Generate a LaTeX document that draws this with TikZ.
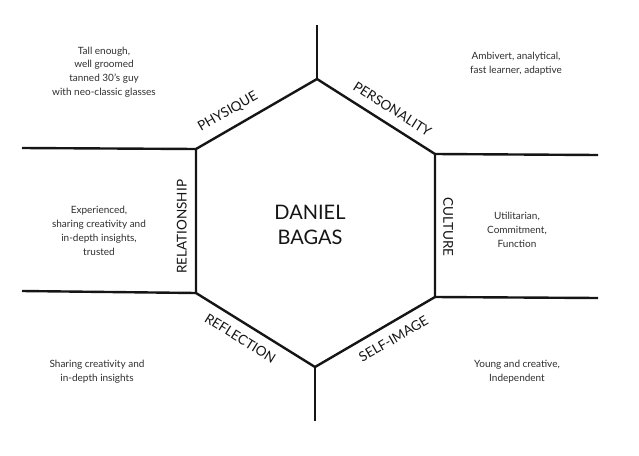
\documentclass[tikz,border=0pt]{standalone}
\usepackage{fontspec}
\setmainfont{Lato}
\usepackage{xcolor}
\usetikzlibrary{calc}
\definecolor{ink}{HTML}{151515}
\definecolor{note}{HTML}{2E2E2E}
\tikzset{
  hexEdge/.style={draw=ink, line width=2.4pt, line join=miter},
  hexSpoke/.style={draw=ink, line width=2.4pt},
  hexLabel/.style={text=ink, font=\fontsize{13.5}{15}\selectfont, inner sep=0pt, sloped},
  hexTitle/.style={text=ink, font=\fontsize{20}{25}\selectfont, align=center},
  hexNote/.style={text=note, font=\fontsize{10}{13.8}\selectfont, align=center}
}

\begin{document}
\begin{tikzpicture}[x=1pt,y=-1pt]
  \useasboundingbox (0,0) rectangle (639,455);

  % hexagon corners
  \coordinate (T)  at (317,79);
  \coordinate (UR) at (435,154);
  \coordinate (LR) at (435,297);
  \coordinate (B)  at (315,367);
  \coordinate (LL) at (196,293);
  \coordinate (UL) at (196,149);

  % outer ends of the spokes
  \coordinate (Tout)  at (317,25);
  \coordinate (URout) at (598,155);
  \coordinate (LRout) at (598,298);
  \coordinate (Bout)  at (315,421);
  \coordinate (LLout) at (22,291);
  \coordinate (ULout) at (22,148);

  \draw[hexEdge] (T) -- (UR) -- (LR) -- (B) -- (LL) -- (UL) -- cycle;

  \draw[hexSpoke] (T) -- (Tout);
  \draw[hexSpoke] (UR) -- (URout);
  \draw[hexSpoke] (LR) -- (LRout);
  \draw[hexSpoke] (B) -- (Bout);
  \draw[hexSpoke] (LL) -- (LLout);
  \draw[hexSpoke] (UL) -- (ULout);

  % edge labels
  \path (UL) -- node[hexLabel, pos=0.33, above=10pt] (physique) {PHYSIQUE} (T);
  \path (T) -- node[hexLabel, pos=0.57, above=10pt] (personality) {PERSONALITY} (UR);
  \path (UR) -- node[hexLabel, pos=0.51, above=8pt] (culture) {CULTURE} (LR);
  \path (B) -- node[hexLabel, pos=0.59, below=10pt] (selfimage) {SELF-IMAGE} (LR);
  \path (LL) -- node[hexLabel, pos=0.44, below=10pt] (reflection) {REFLECTION} (B);
  \path (LL) -- node[hexLabel, pos=0.46, above=9pt] (relationship) {RELATIONSHIP} (UL);

  \node[hexTitle] (name) at (310,225) {DANIEL\\BAGAS};

  % notes
  \node[hexNote] (physNote) at (104,72) {Tall enough,\\well groomed\\tanned 30's guy\\with neo-classic glasses};
  \node[hexNote] (persNote) at (516,64) {Ambivert, analytical,\\fast learner, adaptive};
  \node[hexNote] (relNote) at (99,231) {Experienced,\\sharing creativity and\\in-depth insights,\\trusted};
  \node[hexNote] (cultNote) at (517,230) {Utilitarian,\\Commitment,\\Function};
  \node[hexNote] (reflNote) at (97,372) {Sharing creativity and\\in-depth insights};
  \node[hexNote] (selfNote) at (517,372) {Young and creative,\\Independent};
\end{tikzpicture}
\end{document}
